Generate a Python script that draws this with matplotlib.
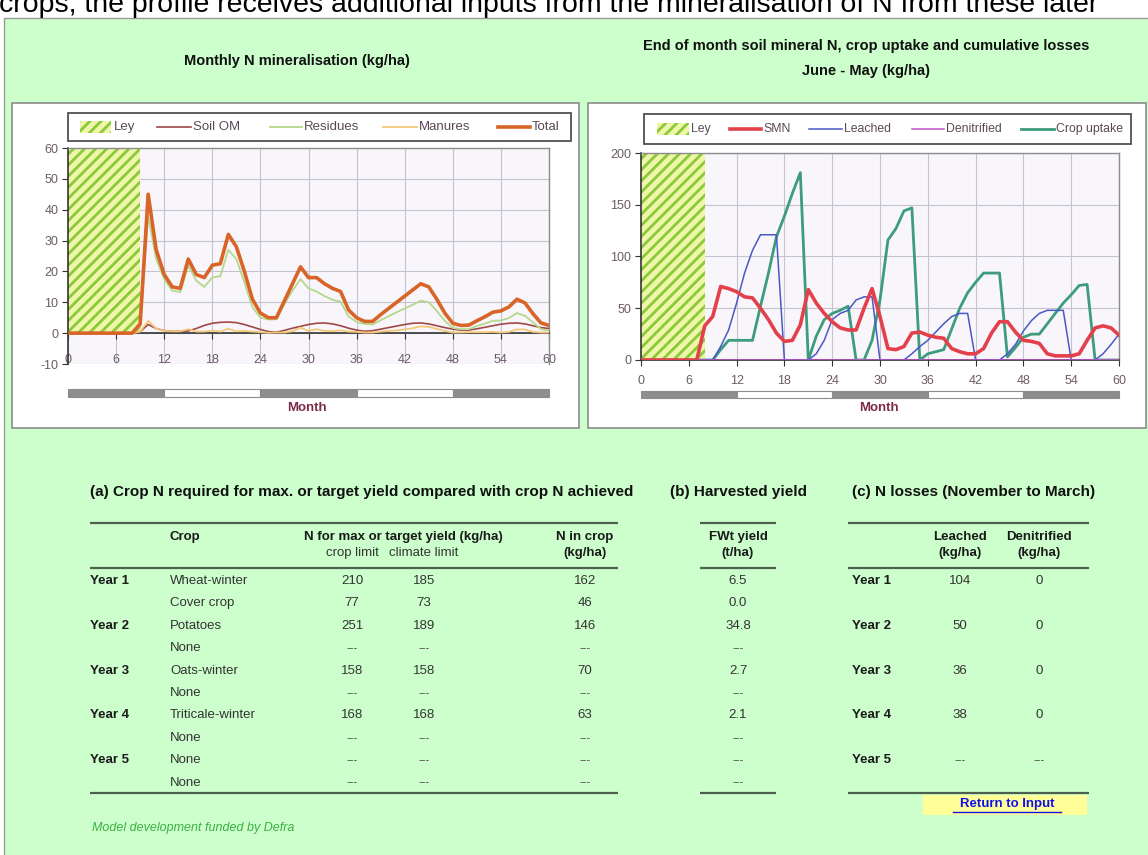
import matplotlib
matplotlib.use("Agg")
import matplotlib.pyplot as plt
from matplotlib.patches import Rectangle
from matplotlib.transforms import blended_transform_factory

# ---------------- data ----------------
months = list(range(61))
month_ticks = [0, 6, 12, 18, 24, 30, 36, 42, 48, 54, 60]
year_edges = [0, 12, 24, 36, 48, 60]

# Monthly N mineralisation (kg/ha)
ley_left = [0, 9]
soil_om = [0, 0, 0, 0, 0, 0, 0, 0, 0,
           0.5, 2.8, 1.5, 0.8, 0.6, 0.6, 0.7, 1.5, 2.5, 3.2, 3.5, 3.6, 3.4, 2.8, 2.0, 1.2,
           0.5, 0.3, 0.9, 1.6, 2.2, 2.8, 3.2, 3.3, 3.0, 2.4, 1.6, 1.0, 0.6, 0.8, 1.3, 1.8,
           2.3, 2.8, 3.2, 3.3, 3.0, 2.4, 1.8, 1.3, 1.0, 1.0, 1.4, 1.9, 2.4, 2.9, 3.2, 3.3,
           3.0, 2.4, 1.8, 1.5]
residues = [0, 0, 0, 0, 0, 0, 0, 0, 0,
            2, 38, 24, 17.5, 13.8, 13.3, 22, 17, 15, 18, 18.5, 27, 24, 16.5, 8.5, 5,
            4.4, 4.5, 9.4, 13.8, 17.5, 14.5, 13.5, 12, 10.8, 10.2, 5.4, 3.6, 3.0, 2.8, 4.2,
            5.5, 6.8, 8, 9.2, 10.5, 10, 7.2, 4.0, 1.7, 1.3, 1.3, 2.3, 3.1, 4.0, 4.1, 4.9,
            6.5, 5.6, 3.5, 1.3, 0.8]
manures = [0, 0, 0, 0, 0, 0, 0, 0, 0,
           0.5, 4, 1.5, 0.7, 0.6, 0.6, 1.3, 0.5, 0.5, 0.8, 0.5, 1.4, 0.6, 0.7, 0.5, 0.3,
           0.1, 0.2, 0.2, 0.6, 1.8, 0.7, 1.3, 0.7, 0.7, 0.9, 0.5, 0.4, 0.2, 0.2, 0.5,
           0.7, 0.9, 1.2, 1.6, 2.2, 2.0, 1.4, 0.7, 0.2, 0.2, 0.3, 0.3, 0.3, 0.4, 0.2, 0.4,
           1.2, 1.2, 0.4, 0.2, 0.2]
total = [0, 0, 0, 0, 0, 0, 0, 0, 0,
         3, 45, 27, 19, 15, 14.5, 24, 19, 18, 22, 22.5, 32, 28, 20, 11, 6.5,
         5, 5, 10.5, 16, 21.5, 18, 18, 16, 14.5, 13.5, 7.5, 5, 3.8, 3.8, 6,
         8, 10, 12, 14, 16, 15, 11, 6.5, 3.2, 2.5, 2.6, 4, 5.3, 6.8, 7.2, 8.5,
         11, 9.8, 6.3, 3.3, 2.5]

# End of month soil mineral N, crop uptake and cumulative losses (kg/ha)
ley_right = [0, 8]
smn = [0, 0, 0, 0, 0, 0, 0, 0,
       33, 42, 71, 69, 66, 61, 60, 50, 39, 26, 18, 19, 34, 68, 55, 45, 37, 31, 29, 29,
       50, 69, 42, 11, 10, 13, 26, 27, 24, 22, 21, 11, 8, 6, 6, 11, 26, 37, 37, 27,
       19, 18, 16, 6, 4, 4, 4, 6, 19, 31, 33, 31, 24]
leached = [0, 0, 0, 0, 0, 0, 0, 0, 0,
           0, 13, 29, 55, 84, 106, 121, 121, 121, 0, 0, 0, 0, 6, 19, 39, 45, 48, 58, 61,
           61, 0, 0, 0, 0, 6, 13, 19, 27, 35, 42, 45, 45, 0, 0, 0, 0, 6, 15, 28, 38,
           45, 48, 48, 48, 0, 0, 0, 0, 6, 15, 25]
denitrified = [0] * 61
crop_uptake = [0, 0, 0, 0, 0, 0, 0, 0, 0, 0,
               10, 19, 19, 19, 19, 52, 84, 119, 139, 161, 181, 0, 23, 39, 45, 48, 52, 0,
               0, 19, 58, 116, 127, 144, 147, 0, 6, 8, 10, 30, 50, 65, 75, 84, 84, 84,
               3, 12, 22, 25, 25, 35, 45, 55, 63, 72, 73, 0, 0, 0, 0]

# Tables
year_labels = ["Year 1", "", "Year 2", "", "Year 3", "", "Year 4", "", "Year 5", ""]
crop_names = ["Wheat-winter", "Cover crop", "Potatoes", "None", "Oats-winter", "None",
              "Triticale-winter", "None", "None", "None"]
crop_limit = ["210", "77", "251", "---", "158", "---", "168", "---", "---", "---"]
climate_limit = ["185", "73", "189", "---", "158", "---", "168", "---", "---", "---"]
n_in_crop = ["162", "46", "146", "---", "70", "---", "63", "---", "---", "---"]
fwt_yield = ["6.5", "0.0", "34.8", "---", "2.7", "---", "2.1", "---", "---", "---"]
loss_years = ["Year 1", "Year 2", "Year 3", "Year 4", "Year 5"]
leached_loss = ["104", "50", "36", "38", "---"]
denit_loss = ["0", "0", "0", "0", "---"]

# ---------------- figure ----------------
W, H = 1148, 855
plt.rcParams["font.family"] = ["Liberation Sans", "DejaVu Sans"]
plt.rcParams["axes.unicode_minus"] = False
plt.rcParams["hatch.linewidth"] = 2.0

fig = plt.figure(figsize=(W / 100, H / 100), dpi=100, facecolor="white")
bg = fig.add_axes([0, 0, 1, 1])
bg.set_xlim(0, W)
bg.set_ylim(H, 0)
bg.axis("off")
bg.set_zorder(0)


def rect(l, t, r, b):
    return [l / W, 1 - b / H, (r - l) / W, (b - t) / H]


GREEN_BG = "#ccffcc"
LEY_FC = "#eef7a8"
LEY_EC = "#8cc83c"
TICK_C = "#6b5b68"
LEG_C = "#5a4a55"

# page
bg.text(-1, 12, "crops, the profile receives additional inputs from the mineralisation of N from these later",
        fontsize=20.5, va="baseline", ha="left", color="black")
bg.add_patch(Rectangle((4, 18), W, H, fc=GREEN_BG, ec="#9a9a9a", lw=1))

# titles
bg.text(297, 61, "Monthly N mineralisation (kg/ha)", ha="center", va="center",
        fontsize=10.5, fontweight="bold", color="#111111")
bg.text(866, 46, "End of month soil mineral N, crop uptake and cumulative losses",
        ha="center", va="center", fontsize=10.5, fontweight="bold", color="#111111")
bg.text(866, 71, "June - May (kg/ha)", ha="center", va="center",
        fontsize=10.5, fontweight="bold", color="#111111")

# chart panels
bg.add_patch(Rectangle((12, 103), 567, 325, fc="white", ec="#8c8c8c", lw=1.2))
bg.add_patch(Rectangle((588, 103), 558, 325, fc="white", ec="#8c8c8c", lw=1.2))


def style_axis(ax, ymin, ymax, ystep, xpad):
    ax.set_facecolor("#f8f6fa")
    ax.set_xlim(0, 60)
    ax.set_ylim(ymin, ymax)
    ax.set_xticks(month_ticks)
    ax.set_yticks(list(range(ymin, ymax + 1, ystep)))
    ax.grid(True, color="#c4c4d0", lw=0.8)
    ax.set_axisbelow(True)
    for s in ("top", "right"):
        ax.spines[s].set_color("#8c8c8c")
        ax.spines[s].set_linewidth(1.0)
    ax.spines["left"].set_color("#333333")
    ax.spines["left"].set_linewidth(1.2)
    ax.spines["bottom"].set_color("#333333")
    ax.spines["bottom"].set_linewidth(1.2)
    ax.spines["bottom"].set_position(("data", 0))
    ax.tick_params(direction="out", length=4, color="#333333", labelsize=9,
                   labelcolor=TICK_C)
    ax.tick_params(axis="x", pad=xpad)
    ax.tick_params(axis="y", pad=3)


# left chart
ax1 = fig.add_axes(rect(68, 148, 549, 364))
style_axis(ax1, -10, 60, 10, 11)
ax1.fill_between(ley_left, 0, 60, facecolor=LEY_FC, edgecolor=LEY_EC, hatch="///",
                 lw=0, zorder=1.5)
ax1.plot(months, soil_om, color="#a04848", lw=1.2, zorder=3)
ax1.plot(months, residues, color="#b4d88c", lw=1.3, zorder=3)
ax1.plot(months, manures, color="#f4c878", lw=1.3, zorder=3)
ax1.plot(months, total, color="#d86428", lw=2.6, zorder=4)

# right chart
ax2 = fig.add_axes(rect(641, 153, 1119, 360))
style_axis(ax2, 0, 200, 50, 7)
ax2.fill_between(ley_right, 0, 200, facecolor=LEY_FC, edgecolor=LEY_EC, hatch="///",
                 lw=0, zorder=1.5)
ax2.plot(months, crop_uptake, color="#3c9c7c", lw=2.0, zorder=3)
ax2.plot(months, leached, color="#4a58c8", lw=1.1, zorder=3)
ax2.plot(months, denitrified, color="#c050c8", lw=1.1, zorder=3)
ax2.plot(months, smn, color="#e4404c", lw=2.6, zorder=4)

# year bands under charts
for ax, y0, hgt, mx in ((ax1, 389, 8, 307), (ax2, 391, 7, 879)):
    tr = blended_transform_factory(ax.transData, bg.transData)
    for i in range(len(year_edges) - 1):
        fc = "#8e8e8e" if i % 2 == 0 else "white"
        bg.add_patch(Rectangle((year_edges[i], y0), year_edges[i + 1] - year_edges[i], hgt,
                               transform=tr, fc=fc, ec="#8c8c8c", lw=0.8, clip_on=False))
    bg.text(mx, 408, "Month", ha="center", va="center", fontsize=9.5,
            fontweight="bold", color="#7a2a4a")

# legends
bg.add_patch(Rectangle((68, 113), 503, 28, fc="white", ec="#505050", lw=1.3))
bg.add_patch(Rectangle((80, 121), 31, 12, fc=LEY_FC, ec=LEY_EC, hatch="///", lw=0))
bg.text(114, 127, "Ley", va="center", fontsize=9.5, color=LEG_C)
for x0, x1, col, lw, lab in ((157, 191, "#a04848", 1.2, "Soil OM"),
                             (270, 302, "#b4d88c", 1.3, "Residues"),
                             (383, 417, "#f4c878", 1.3, "Manures"),
                             (498, 530, "#d86428", 2.6, "Total")):
    bg.plot([x0, x1], [127, 127], color=col, lw=lw)
    bg.text(x1 + 2, 127, lab, va="center", fontsize=9.5, color=LEG_C)

bg.add_patch(Rectangle((644, 114), 487, 30, fc="white", ec="#505050", lw=1.3))
bg.add_patch(Rectangle((657, 123), 32, 12, fc=LEY_FC, ec=LEY_EC, hatch="///", lw=0))
bg.text(691, 129, "Ley", va="center", fontsize=8.8, color=LEG_C)
for x0, x1, col, lw, lab in ((730, 761, "#e4404c", 2.6, "SMN"),
                             (809, 842, "#4a58c8", 1.1, "Leached"),
                             (912, 944, "#c050c8", 1.1, "Denitrified"),
                             (1021, 1054, "#3c9c7c", 2.0, "Crop uptake")):
    bg.plot([x0, x1], [129, 129], color=col, lw=lw)
    bg.text(x1 + 2, 129, lab, va="center", fontsize=8.8, color=LEG_C)

# ---------------- tables ----------------
HEAD = dict(fontsize=11, fontweight="bold", color="#111111", va="center")
BOLD = dict(fontsize=9.5, fontweight="bold", color="#1a1a1a", va="center")
BODY = dict(fontsize=9.5, color="#333333", va="center")
LINE_C = "#4f5f4f"

bg.text(90, 492, "(a) Crop N required for max. or target yield compared with crop N achieved", **HEAD)
bg.text(670, 492, "(b) Harvested yield", **HEAD)
bg.text(852, 492, "(c) N losses (November to March)", **HEAD)

for xa, xb in ((90, 618), (700, 776), (848, 1089)):
    for yl in (523, 568, 793):
        bg.plot([xa, xb], [yl, yl], color=LINE_C, lw=1.6, solid_capstyle="butt")

bg.text(170, 537, "Crop", ha="left", **BOLD)
bg.text(403, 537, "N for max or target yield (kg/ha)", ha="center", **BOLD)
bg.text(352, 553, "crop limit", ha="center", **BODY)
bg.text(424, 553, "climate limit", ha="center", **BODY)
bg.text(585, 537, "N in crop", ha="center", **BOLD)
bg.text(585, 553, "(kg/ha)", ha="center", **BOLD)
bg.text(738, 537, "FWt yield", ha="center", **BOLD)
bg.text(738, 553, "(t/ha)", ha="center", **BOLD)
bg.text(960, 537, "Leached", ha="center", **BOLD)
bg.text(1039, 537, "Denitrified", ha="center", **BOLD)
bg.text(960, 553, "(kg/ha)", ha="center", **BOLD)
bg.text(1039, 553, "(kg/ha)", ha="center", **BOLD)


def cell(x, y, s, ha="center"):
    if s == "---":
        bg.text(x, y, s, ha=ha, fontsize=8, color="#444444", va="center")
    else:
        bg.text(x, y, s, ha=ha, **BODY)


row_y = [581 + 22.4 * i for i in range(len(crop_names))]
for i, y in enumerate(row_y):
    if year_labels[i]:
        bg.text(90, y, year_labels[i], ha="left", **BOLD)
    bg.text(170, y, crop_names[i], ha="left", **BODY)
    cell(352, y, crop_limit[i])
    cell(424, y, climate_limit[i])
    cell(585, y, n_in_crop[i])
    cell(738, y, fwt_yield[i])

for j, lab in enumerate(loss_years):
    y = row_y[2 * j]
    bg.text(852, y, lab, ha="left", **BOLD)
    cell(960, y, leached_loss[j])
    cell(1039, y, denit_loss[j])

# return link
bg.add_patch(Rectangle((923, 795), 164, 20, fc="#ffff99", ec="none"))
bg.text(1007, 804, "Return to Input", ha="center", va="center", fontsize=9.5,
        fontweight="bold", color="#1010ee")
bg.plot([953, 1061], [812, 812], color="#1010ee", lw=1)

bg.text(92, 828, "Model development funded by Defra", ha="left", va="center",
        fontsize=9, style="italic", color="#3cb043")

fig.savefig("out.png", dpi=100, facecolor="white")
